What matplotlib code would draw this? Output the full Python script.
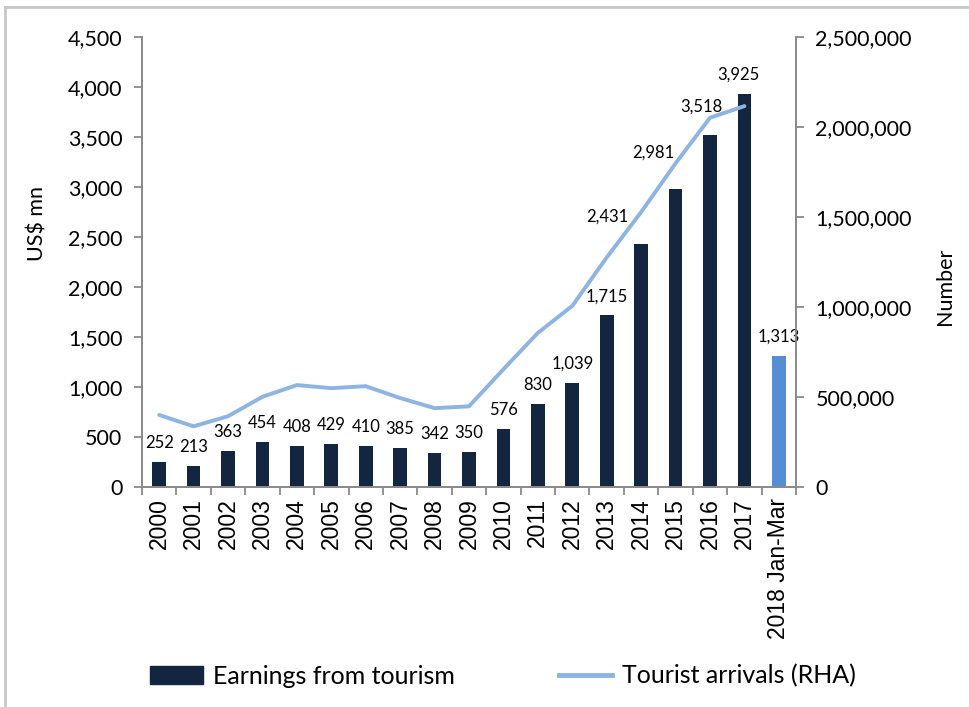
import numpy as np
import matplotlib.pyplot as plt
from matplotlib.lines import Line2D
from matplotlib.ticker import FuncFormatter

categories = ["2000", "2001", "2002", "2003", "2004", "2005", "2006", "2007",
              "2008", "2009", "2010", "2011", "2012", "2013", "2014", "2015",
              "2016", "2017", "2018 Jan-Mar"]
earnings = [252, 213, 363, 454, 408, 429, 410, 385, 342, 350, 576, 830,
            1039, 1715, 2431, 2981, 3518, 3925, 1313]
arrivals = [400000, 337000, 393000, 501000, 566000, 549000, 560000, 494000,
            438000, 448000, 654000, 856000, 1006000, 1275000, 1527000,
            1798000, 2051000, 2116000]

plt.rcParams["font.family"] = ["Lato", "DejaVu Sans"]
navy = "#13253f"
light_bar = "#558ed5"
line_col = "#8db4e2"
axis_col = "#8a8a8a"

fig = plt.figure(figsize=(9.69, 7.07), dpi=100)
ax = fig.add_axes([0.1465, 0.3112, 0.675, 0.6365])
ax2 = ax.twinx()

x = np.arange(len(categories))
colors = [navy] * (len(categories) - 1) + [light_bar]
bars = ax.bar(x, earnings, width=0.4, color=colors, zorder=2)
ax2.plot(x[:len(arrivals)], arrivals, color=line_col, linewidth=2.8,
         solid_capstyle="round", zorder=3)

ax.set_xlim(-0.5, len(categories) - 0.5)
ax.set_ylim(0, 4500)
ax.set_yticks(np.arange(0, 4501, 500))
ax2.set_ylim(0, 2500000)
ax2.set_yticks(np.arange(0, 2500001, 500000))
fmt = FuncFormatter(lambda v, p: f"{int(v):,}")
ax.yaxis.set_major_formatter(fmt)
ax2.yaxis.set_major_formatter(fmt)

# labels; a few nudged away from the line like in the original
nudge = {14: (-34, 27), 15: (-22, 36), 16: (-9, 29), 17: (-6, 20)}
for i, v in enumerate(earnings):
    dx, dy = nudge.get(i, (0, 19))
    ax.annotate(f"{v:,}", (i, v), xytext=(dx * 0.72, dy * 0.72),
                textcoords="offset points", ha="center", va="center",
                fontsize=12, color="#000000", zorder=4)

ax.set_xticks(x)
ax.set_xticklabels(categories, rotation=90, fontsize=16.5,
                   family="Liberation Sans")
ax.set_xticks(np.arange(-0.5, len(categories)), minor=True)
ax.tick_params(axis="x", which="major", length=0, pad=8)
ax.tick_params(axis="x", which="minor", length=6, color=axis_col, width=1.3)
ax.tick_params(axis="y", length=6, color=axis_col, width=1.3, labelsize=15.5,
               pad=8)
ax2.tick_params(axis="y", length=6, color=axis_col, width=1.3,
                labelsize=15.5, pad=8)

for a in (ax, ax2):
    a.spines["top"].set_visible(False)
    for s in ("left", "right", "bottom"):
        a.spines[s].set_color(axis_col)
        a.spines[s].set_linewidth(1.3)

ax.set_ylabel("US$ mn", fontsize=15.5)
ax2.set_ylabel("Number", fontsize=15.5)
ax.yaxis.set_label_coords(-0.144, 0.585)
ax2.yaxis.set_label_coords(1.213, 0.446)

handles = [plt.Rectangle((0, 0), 1, 1, color=navy),
           Line2D([0], [0], color=line_col, linewidth=3.5)]
fig.legend(handles, ["Earnings from tourism", "Tourist arrivals (RHA)"],
           loc="center", bbox_to_anchor=(0.519, 0.044), ncol=2,
           frameon=False, fontsize=18, columnspacing=4.2, handlelength=2.1,
           handletextpad=0.4)

# partial outer frame
fig.add_artist(Line2D([0.005, 0.005], [0, 0.99], color="#c8c8c8",
                      linewidth=2, transform=fig.transFigure))
fig.add_artist(Line2D([0.005, 1], [0.99, 0.99], color="#c8c8c8",
                      linewidth=2, transform=fig.transFigure))

fig.savefig("out.png", dpi=100)
